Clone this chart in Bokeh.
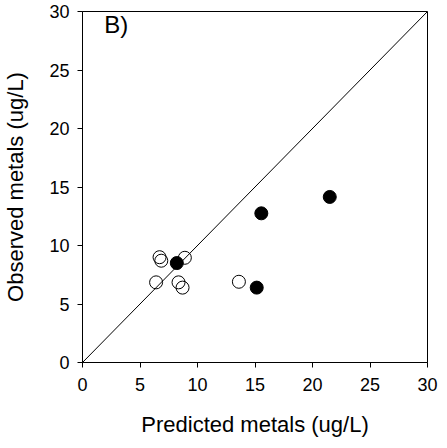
from bokeh.plotting import figure
from bokeh.models import Range1d, FixedTicker, Label
from bokeh.embed import file_html
from bokeh.resources import INLINE

# Data
open_pred = [6.7, 6.85, 8.9, 6.4, 8.35, 8.7, 13.6]
open_obs = [9.0, 8.7, 8.95, 6.85, 6.85, 6.4, 6.9]
filled_pred = [8.2, 15.55, 21.5, 15.15]
filled_obs = [8.5, 12.75, 14.15, 6.4]
one_to_one = [0, 30]
ticks = [0, 5, 10, 15, 20, 25, 30]

FONT = "Liberation Sans"

p = figure(width=439, height=439, output_backend="svg", toolbar_location=None,
           x_range=Range1d(0, 30), y_range=Range1d(0, 30),
           min_border_left=75, min_border_right=12, min_border_top=11, min_border_bottom=77)
p.outline_line_color = "black"
p.outline_line_width = 1
p.grid.visible = False
p.background_fill_color = "white"
p.border_fill_color = "white"

for ax in (p.xaxis[0], p.yaxis[0]):
    ax.ticker = FixedTicker(ticks=ticks)
    ax.minor_tick_line_color = None
    ax.major_tick_in = 0
    ax.major_tick_out = 5
    ax.axis_line_color = "black"
    ax.major_tick_line_color = "black"
    ax.major_label_text_font = FONT
    ax.major_label_text_font_size = "18px"
    ax.major_label_text_color = "black"
    ax.axis_label_text_font = FONT
    ax.axis_label_text_font_size = "22px"
    ax.axis_label_text_font_style = "normal"
    ax.axis_label_text_color = "black"

p.xaxis.axis_label = "Predicted metals (ug/L)"
p.yaxis.axis_label = "Observed metals (ug/L)"
p.xaxis.major_label_standoff = 10
p.yaxis.major_label_standoff = 8
p.xaxis.axis_label_standoff = 18
p.yaxis.axis_label_standoff = 18

p.line(one_to_one, one_to_one, line_color="black", line_width=1)

p.scatter(filled_pred, filled_obs, size=13, marker="circle",
          fill_color="black", line_color="black", line_width=1)
p.scatter(open_pred, open_obs, size=13, marker="circle",
          fill_color=None, line_color="black", line_width=1)

p.add_layout(Label(x=1.9, y=28.9, text="B)", text_font=FONT, text_font_size="24px",
                   text_color="black", text_baseline="middle", text_align="left"))

open("out.html", "w").write(file_html(p, INLINE))
